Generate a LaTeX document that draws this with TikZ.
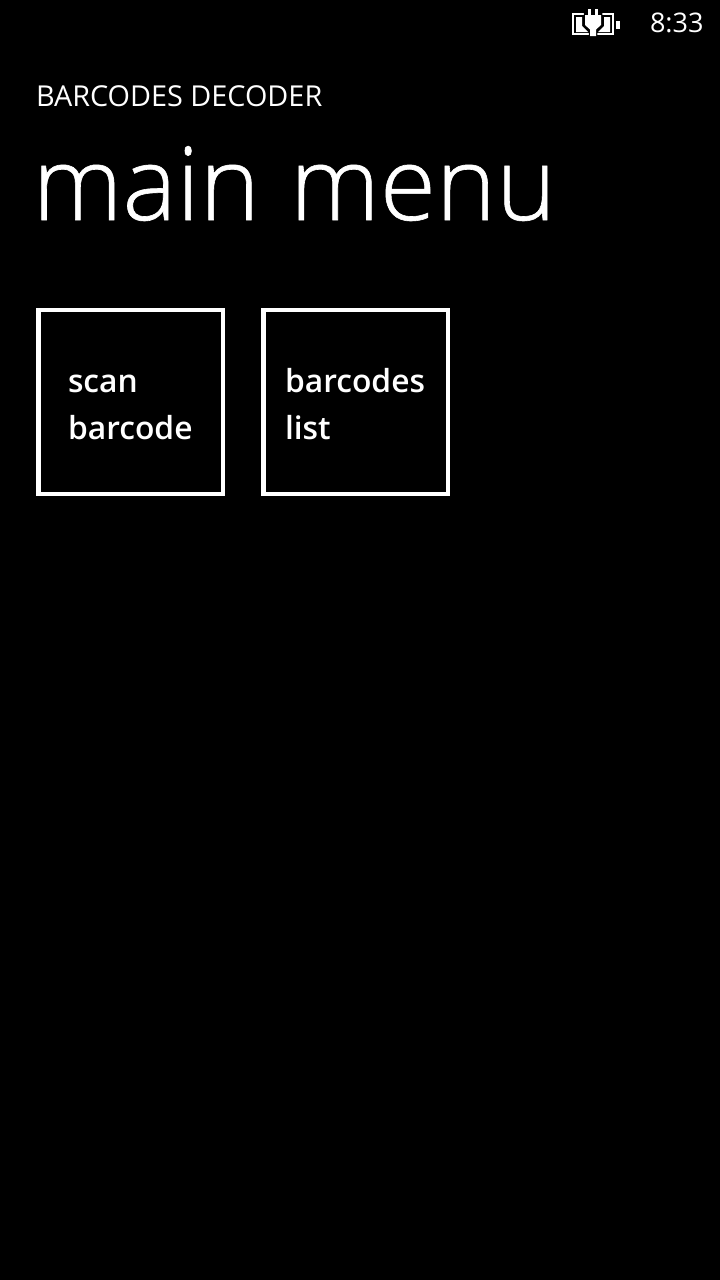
\documentclass[tikz,border=0pt]{standalone}
\usepackage{fontspec}
\setmainfont{Open Sans}
\newfontfamily\lightfont[FakeBold=0.6]{Open Sans Light}
\newfontfamily\semifont{Open Sans Semibold}
\tikzset{
  txt/.style={anchor=base west,inner sep=0pt,outer sep=0pt,text=white},
  tile/.style={draw=white,line width=4.5pt,fill=black},
  tiletext/.style={txt,font=\semifont\fontsize{31.8}{32}\selectfont},
  icon/.style={fill=white,draw=none}
}
\begin{document}
\begin{tikzpicture}[x=1pt,y=-1pt]
\fill[black] (0,0) rectangle (720,1280);
\useasboundingbox (0,0) rectangle (720,1280);
% battery icon
\draw[white,line width=2.4pt] (573.2,14.2) rectangle (612.8,34.2);
\fill[icon] (576,17) -- (582,17) -- (582,26) -- (588,32) -- (576,32) -- cycle;
\fill[icon] (604,17) -- (610,17) -- (610,32) -- (598,32) -- (604,26) -- cycle;
\path[fill=black,draw=black,line width=2.5pt] (585,14) -- (601,14) -- (601,25) -- (596,30) -- (596,37) -- (590,37) -- (590,30) -- (585,25) -- cycle;
\fill[black] (586,8) rectangle (600,14);
\fill[icon] (588,9) rectangle (591,16);
\fill[icon] (595,9) rectangle (598,16);
\fill[icon] (585,15) -- (601,15) -- (601,25) -- (596,29.5) -- (596,36) -- (590,36) -- (590,29.5) -- (585,25) -- cycle;
\fill[icon] (616,21) rectangle (620,29);
\node[txt,font=\fontsize{27}{27}\selectfont] (clock) at (650,32) {8:33};
\node[txt,font=\fontsize{28.8}{29}\selectfont] (app) at (36,106) {BARCODES DECODER};
\node[txt,font=\lightfont\fontsize{102}{102}\selectfont] (title) at (32.5,220) {main\hspace{3.5pt} menu};
\draw[tile] (38.25,310) rectangle (222.75,493.75);
\draw[tile] (263.25,310) rectangle (447.75,493.75);
\node[tiletext] (scan) at (68,392) {scan};
\node[tiletext] (barcode) at (68,439) {barcode};
\node[tiletext] (barcodes) at (285,392) {barcodes};
\node[tiletext] (list) at (285,439) {list};
\end{tikzpicture}
\end{document}
